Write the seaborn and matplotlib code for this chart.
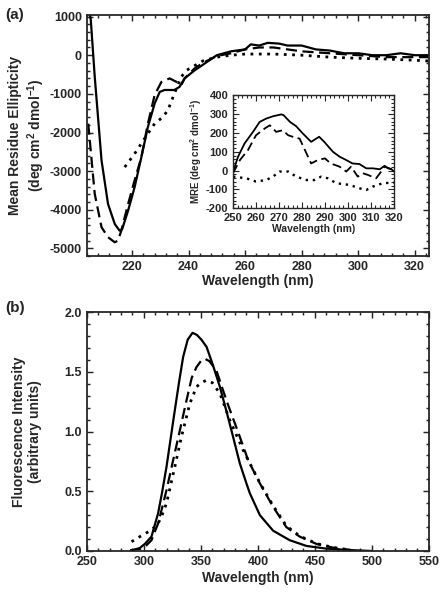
import matplotlib
matplotlib.use("Agg")
import matplotlib.pyplot as plt
import seaborn as sns
import pandas as pd
from matplotlib.ticker import MultipleLocator

# CD spectra (far UV) - mean residue ellipticity
cd_solid_x = [204, 205.4, 206.8, 209.2, 211.5, 213.9, 215.6, 216.5, 218.6, 220.9, 223.3, 225.6, 228,
              229.8, 231.5, 235, 236.8, 238.6, 242, 245, 250, 255, 260, 262, 265, 268, 272, 275, 280,
              285, 290, 295, 300, 305, 310, 315, 320, 325]
cd_solid_y = [1600, 914, -560, -2720, -3850, -4370, -4540, -4500, -4020, -3415, -2636, -1857, -1250,
              -950, -900, -900, -818, -600, -400, -250, 0, 100, 150, 280, 250, 320, 300, 250, 250,
              150, 120, 50, 50, 0, 0, 50, 0, 0]
cd_dash_x = [204.5, 206.8, 209.2, 211.5, 213.9, 215, 216.2, 218.6, 220.9, 223.3, 225.6, 228, 230.4,
             233.3, 235.7, 237.4, 238.6, 242, 245, 250, 255, 260, 265, 270, 275, 280, 290, 300, 310,
             320, 325]
cd_dash_y = [-1770, -3590, -4450, -4710, -4840, -4800, -4540, -3850, -3240, -2636, -1770, -1030, -690,
             -600, -690, -775, -600, -350, -200, -20, 50, 150, 200, 200, 150, 100, 50, 0, -50,
             -50, -50]
cd_dot_x = [217.4, 220.9, 224.4, 228, 230.9, 232.7, 235, 237.4, 239.4, 245, 250, 255, 260, 270, 280,
            290, 300, 310, 320, 325]
cd_dot_y = [-2895, -2550, -2160, -1770, -1600, -1420, -990, -560, -385, -150, -50, 0, 30, 30, 0,
            -50, -80, -100, -130, -150]

# Inset: near UV CD
in_solid_x = [250, 252.2, 255, 258.7, 261.6, 264.5, 267.4, 271, 272, 274.8, 277.5, 280.4, 284, 287.5,
              289.7, 293.5, 296.4, 299.3, 302, 305, 308, 310.9, 313.9, 316, 317.5, 319, 320]
in_solid_y = [-5, 74, 144, 206, 259, 277, 289, 299, 295, 259, 236, 197, 153, 180,
              153, 100, 74, 56, 38, 35, 12, 12, 7, 26, 12, 7, -5]
in_dash_x = [250, 253, 256.5, 260, 263.8, 266, 268.8, 271.7, 274, 276, 279, 282, 284, 286.9, 290, 292.5,
             296.4, 299.3, 301.4, 304.3, 306.5, 308.7, 312.3, 314.5, 316, 318, 320]
in_dash_y = [-14, 56, 109, 188, 224, 241, 206, 215, 188, 180, 170, 91, 38, 56, 65, 38,
             21, -5, 21, -32, -14, -23, -41, -5, 21, 12, 3]
in_dot_x = [250, 255.8, 260, 264.5, 267.4, 270.3, 274, 277.5, 281.9, 285.5, 288.4, 291.3, 294.9, 300.7,
            305, 308, 310.9, 315.2, 320]
in_dot_y = [-32, -41, -58, -50, -32, -5, -5, -32, -50, -50, -32, -41, -67, -76,
            -94, -103, -85, -67, -64]

# Fluorescence emission
fl_solid_x = [288, 296.5, 301, 306.7, 312.5, 316, 319.9, 323.5, 327.2, 331, 334.5, 338.5, 342.7, 346.5,
              350.5, 355, 360.5, 366.7, 372.5, 378.3, 384.2, 390, 393, 401.8, 413.4, 428, 442.7, 460,
              480, 500]
fl_solid_y = [0.0, 0.025, 0.06, 0.12, 0.315, 0.49, 0.705, 0.94, 1.18, 1.42, 1.626, 1.77, 1.827, 1.81,
              1.77, 1.71, 1.56, 1.375, 1.17, 0.956, 0.734, 0.566, 0.483, 0.3, 0.17, 0.09, 0.042,
              0.02, 0.008, 0.0]
fl_dash_x = [288, 298, 302, 306.7, 312.5, 316, 319.9, 325.7, 331.6, 337.4, 342, 346.2, 350, 353.5,
             357.5, 363.7, 372.5, 384.2, 391.5, 401.8, 413.4, 425, 436.8, 451.5, 466, 480]
fl_dash_y = [0.005, 0.02, 0.045, 0.09, 0.23, 0.36, 0.51, 0.76, 1.01, 1.26, 1.45, 1.54, 1.59, 1.61,
             1.59, 1.51, 1.26, 0.956, 0.76, 0.566, 0.37, 0.2, 0.12, 0.059, 0.028, 0.01]
fl_dot_x = [289.2, 296.5, 302, 306.7, 312.5, 316, 319.9, 327.2, 333, 340.4, 346.2, 350.5, 355, 360,
            366.7, 375.4, 387.1, 393, 401.8, 413.4, 425, 436.8, 451.5, 466, 480]
fl_dot_y = [0.078, 0.12, 0.15, 0.176, 0.23, 0.3, 0.4, 0.705, 0.956, 1.236, 1.375, 1.41, 1.43, 1.41,
            1.32, 1.096, 0.845, 0.734, 0.57, 0.38, 0.21, 0.125, 0.062, 0.03, 0.01]

sns.set_style("ticks")
plt.rcParams['font.family'] = ['Liberation Sans', 'DejaVu Sans']
plt.rcParams['font.weight'] = 'bold'
plt.rcParams['axes.labelweight'] = 'bold'
plt.rcParams['axes.unicode_minus'] = False
plt.rcParams['mathtext.fontset'] = 'custom'
plt.rcParams['mathtext.rm'] = 'Liberation Sans:bold'
plt.rcParams['mathtext.bf'] = 'Liberation Sans:bold'
plt.rcParams['mathtext.default'] = 'bf'

fig = plt.figure(figsize=(4.43, 6.0), dpi=100)
ax1 = fig.add_axes([0.196, 0.573, 0.772, 0.402])
ax_in = fig.add_axes([0.526, 0.653, 0.363, 0.188])
ax2 = fig.add_axes([0.196, 0.0817, 0.772, 0.398])

styles = {'solid': '-', 'dash': (0, (5, 2.5)), 'dot': (0, (1, 2))}


def draw(ax, xs, ys, ls, lw):
    df = pd.DataFrame({'x': xs, 'y': ys})
    sns.lineplot(data=df, x='x', y='y', ax=ax, color='black', linestyle=ls, linewidth=lw,
                 estimator=None, sort=False)


def style_axis(ax, size, lw):
    for s in ax.spines.values():
        s.set_linewidth(lw)
        s.set_visible(True)
    ax.tick_params(which='both', direction='in', top=True, right=True, labelsize=size, width=lw * 0.8)
    ax.tick_params(which='major', length=4)
    ax.tick_params(which='minor', length=2)
    for lab in ax.get_xticklabels() + ax.get_yticklabels():
        lab.set_fontweight('bold')


draw(ax1, cd_solid_x, cd_solid_y, styles['solid'], 1.6)
draw(ax1, cd_dash_x, cd_dash_y, styles['dash'], 1.6)
draw(ax1, cd_dot_x, cd_dot_y, styles['dot'], 2.0)
ax1.set_xlim(204, 325)
ax1.set_ylim(-5200, 1040)
ax1.xaxis.set_major_locator(MultipleLocator(20))
ax1.xaxis.set_minor_locator(MultipleLocator(4))
ax1.yaxis.set_major_locator(MultipleLocator(1000))
ax1.yaxis.set_minor_locator(MultipleLocator(200))
ax1.set_xlabel('Wavelength (nm)', fontsize=10, fontweight='bold', labelpad=1)
ax1.set_ylabel('Mean Residue Ellipticity\n(deg cm$^{2}$ dmol$^{-1}$)', fontsize=10, fontweight='bold',
               labelpad=2)
style_axis(ax1, 9, 1.3)

draw(ax_in, in_solid_x, in_solid_y, styles['solid'], 1.3)
draw(ax_in, in_dash_x, in_dash_y, styles['dash'], 1.3)
draw(ax_in, in_dot_x, in_dot_y, styles['dot'], 1.7)
ax_in.set_xlim(250, 320)
ax_in.set_ylim(-200, 400)
ax_in.xaxis.set_major_locator(MultipleLocator(10))
ax_in.xaxis.set_minor_locator(MultipleLocator(2))
ax_in.yaxis.set_major_locator(MultipleLocator(100))
ax_in.yaxis.set_minor_locator(MultipleLocator(20))
ax_in.set_xlabel('Wavelength (nm)', fontsize=7.5, fontweight='bold', labelpad=1)
ax_in.set_ylabel('MRE (deg cm$^{2}$ dmol$^{-1}$)', fontsize=7, fontweight='bold', labelpad=1)
style_axis(ax_in, 8, 1.0)

draw(ax2, fl_solid_x, fl_solid_y, styles['solid'], 1.6)
draw(ax2, fl_dash_x, fl_dash_y, styles['dash'], 1.6)
draw(ax2, fl_dot_x, fl_dot_y, styles['dot'], 2.0)
ax2.set_xlim(250, 550)
ax2.set_ylim(0, 2.0)
ax2.xaxis.set_major_locator(MultipleLocator(50))
ax2.xaxis.set_minor_locator(MultipleLocator(10))
ax2.yaxis.set_major_locator(MultipleLocator(0.5))
ax2.yaxis.set_minor_locator(MultipleLocator(0.1))
ax2.set_xlabel('Wavelength (nm)', fontsize=10, fontweight='bold', labelpad=2)
ax2.set_ylabel('Fluorescence Intensity\n(arbitrary units)', fontsize=10, fontweight='bold', labelpad=16)
style_axis(ax2, 9, 1.3)

fig.text(0.012, 0.975, '(a)', fontsize=11, fontweight='bold', va='center')
fig.text(0.012, 0.487, '(b)', fontsize=11, fontweight='bold', va='center')

fig.savefig('out.png', dpi=100)
